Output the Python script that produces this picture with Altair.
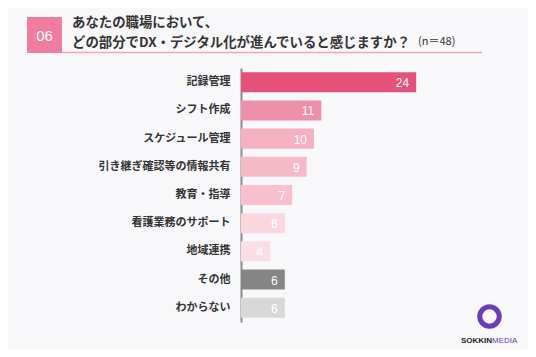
import altair as alt
import pandas as pd

categories = ["記録管理", "シフト作成", "スケジュール管理", "引き継ぎ確認等の情報共有",
              "教育・指導", "看護業務のサポート", "地域連携", "その他", "わからない"]
values = [24, 11, 10, 9, 7, 6, 4, 6, 6]
colors = ["#e4517b", "#ee8fab", "#f5b0c2", "#f6b9c8", "#f8c0cd",
          "#fad6df", "#fbdde4", "#858585", "#d8d8d8"]

title_num = "06"
title_line1 = "あなたの職場において、"
title_line2 = "どの部分でDX・デジタル化が進んでいると感じますか？"
title_n = "(n＝48)"

df = pd.DataFrame({"cat": categories, "val": values, "color": colors})

JP = "Noto Sans CJK JP"
W, H = 219, 254

y_enc = alt.Y("cat:N", sort=categories,
              scale=alt.Scale(paddingInner=0.29, paddingOuter=0.15),
              axis=alt.Axis(title=None, ticks=False, domainColor="#8a8a8a", domainWidth=2,
                            labelFont=JP, labelFontSize=11, labelFontWeight="bold",
                            labelColor="#333333", labelPadding=11, grid=False))
x_enc = alt.X("val:Q", scale=alt.Scale(domain=[0, 30]), axis=None)

bars = alt.Chart(df).mark_bar().encode(
    x=x_enc, y=y_enc, color=alt.Color("color:N", scale=None))

labels = alt.Chart(df).mark_text(align="right", baseline="middle", dx=-7, dy=1,
                                 color="white", font="Liberation Sans", fontSize=12).encode(
    x=x_enc, y=alt.Y("cat:N", sort=categories), text="val:Q")

one = pd.DataFrame({"a": [0]})
base = alt.Chart(one)

box = base.mark_rect(color="#f07ca0").encode(
    x=alt.value(-214), x2=alt.value(-179), y=alt.value(-51), y2=alt.value(-15))
underline = base.mark_rule(color="#f3a3bb", strokeWidth=1.5).encode(
    x=alt.value(-179), x2=alt.value(241), y=alt.value(-15.5))
num = base.mark_text(align="center", baseline="middle", color="white",
                     font="Liberation Sans", fontSize=15).encode(
    x=alt.value(-196.5), y=alt.value(-32), text=alt.value(title_num))
t1 = base.mark_text(align="left", baseline="middle", color="#333333",
                    font=JP, fontSize=13.4, fontWeight="bold").encode(
    x=alt.value(-169), y=alt.value(-45.5), text=alt.value(title_line1))
t2 = base.mark_text(align="left", baseline="middle", color="#333333",
                    font=JP, fontSize=13.4, fontWeight="bold").encode(
    x=alt.value(-169), y=alt.value(-25), text=alt.value(title_line2))
tn = base.mark_text(align="left", baseline="middle", color="#333333",
                    font=JP, fontSize=11).encode(
    x=alt.value(177), y=alt.value(-26), text=alt.value(title_n))

ring = base.mark_point(shape="circle", filled=False, stroke="#6a3db8", strokeWidth=5,
                       size=380, opacity=1).encode(
    x=alt.value(248.5), y=alt.value(248.5))
logo1 = base.mark_text(align="right", baseline="middle", color="#222222",
                       font="Liberation Sans", fontSize=8, fontWeight="bold").encode(
    x=alt.value(251), y=alt.value(273), text=alt.value("SOKKIN"))
logo2 = base.mark_text(align="left", baseline="middle", color="#6a3db8",
                       font="Liberation Sans", fontSize=8).encode(
    x=alt.value(251), y=alt.value(273), text=alt.value("MEDIA"))

chart = alt.layer(bars, labels, box, underline, num, t1, t2, tn, ring, logo1, logo2).properties(
    width=W, height=H,
    autosize=alt.AutoSizeParams(type="none"),
    padding={"left": 233, "top": 60, "right": 68, "bottom": 27},
    background="#f8f8fa",
).configure_view(stroke=None)

chart.save("out.html", embed_options={"renderer": "svg", "actions": False})
